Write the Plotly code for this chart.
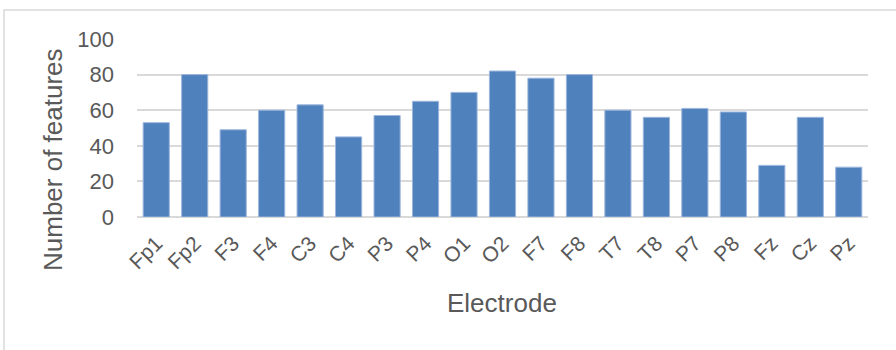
import plotly.graph_objects as go

electrodes = ["Fp1", "Fp2", "F3", "F4", "C3", "C4", "P3", "P4", "O1", "O2",
              "F7", "F8", "T7", "T8", "P7", "P8", "Fz", "Cz", "Pz"]
num_features = [53, 80, 49, 60, 63, 45, 57, 65, 70, 82,
                78, 80, 60, 56, 61, 59, 29, 56, 28]
y_ticks = [0, 20, 40, 60, 80, 100]

W, H = 896, 350
L, R, T, B = 137, 28, 39, 133

fig = go.Figure(go.Bar(
    x=electrodes, y=num_features,
    marker=dict(color="#4F81BD", line=dict(color="#9DB6DD", width=1)),
))

pw = W - L - R
ph = H - T - B
def px(x):
    return (x - L) / pw
def py(y):
    return (H - B - y) / ph

fig.update_layout(
    width=W, height=H,
    margin=dict(l=L, r=R, t=T, b=B, autoexpand=False),
    plot_bgcolor="white", paper_bgcolor="white",
    bargap=0.32,
    showlegend=False,
    font=dict(family="Liberation Sans, Arial, sans-serif", color="#595959"),
    xaxis=dict(
        automargin=False,
        tickangle=-45, tickfont=dict(size=21, color="#595959"),
        showgrid=False, showline=False, ticks="", ticklabelstandoff=9,
    ),
    yaxis=dict(
        automargin=False,
        range=[0, 100], tickvals=y_ticks,
        tickfont=dict(size=22, color="#595959"),
        showgrid=True, gridcolor="#D9D9D9", gridwidth=1.5,
        zeroline=True, zerolinecolor="#D9D9D9", zerolinewidth=1.5,
        ticks="", ticklabelstandoff=22,
    ),
    annotations=[
        dict(text="Electrode", xref="paper", yref="paper", x=px(502), y=py(303),
             xanchor="center", yanchor="middle", showarrow=False,
             font=dict(size=26, color="#595959")),
        dict(text="Number of features", xref="paper", yref="paper", x=px(53), y=py(160),
             xanchor="center", yanchor="middle", textangle=-90, showarrow=False,
             font=dict(size=26, color="#595959")),
    ],
    shapes=[dict(type="rect", xref="paper", yref="paper",
                 x0=px(4), x1=px(905), y0=py(360), y1=py(10),
                 line=dict(color="#D9D9D9", width=1.5), fillcolor="rgba(0,0,0,0)",
                 layer="below")],
)

fig.write_html("out.html", post_script="document.body.style.margin='0';",
               config={"displayModeBar": False})
